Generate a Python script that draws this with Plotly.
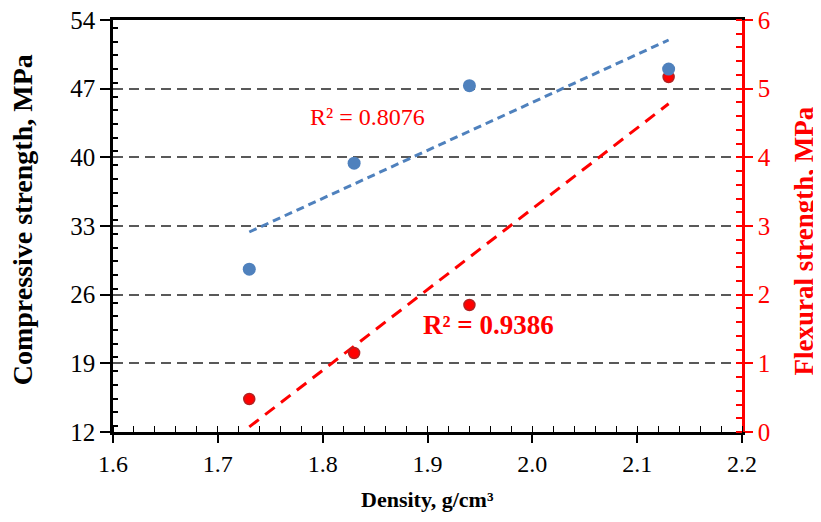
import numpy as np
import plotly.graph_objects as go

density = [1.73, 1.83, 1.94, 2.13]
compressive = [28.6, 39.4, 47.3, 49.0]
flexural = [0.48, 1.15, 1.85, 5.17]
r2_comp_label = "R² = 0.8076"
r2_flex_label = "R² = 0.9386"
x_ticks = [1.6, 1.7, 1.8, 1.9, 2.0, 2.1, 2.2]
x_tick_text = ["1.6", "1.7", "1.8", "1.9", "2.0", "2.1", "2.2"]
y_ticks = [12, 19, 26, 33, 40, 47, 54]
y2_ticks = [0, 1, 2, 3, 4, 5, 6]

FONT = "Liberation Serif"
BLUE = "#4F81BD"
RED = "#FF0000"

xs = np.array(density)
xline = np.array([xs.min(), xs.max()])
pc = np.polyfit(xs, compressive, 1)
pf = np.polyfit(xs, flexural, 1)

fig = go.Figure()
# flexural (red) on the base axis "y" (shown on the right); compressive (blue) on overlay "y2" (left) so it sits on top
fig.add_trace(go.Scatter(x=xline, y=np.polyval(pf, xline), mode="lines",
                         line=dict(color=RED, width=3, dash="12px,8px"),
                         showlegend=False, yaxis="y"))
fig.add_trace(go.Scatter(x=density, y=flexural, mode="markers",
                         marker=dict(color=RED, size=11, line=dict(width=1.5, color="#B22222")),
                         showlegend=False, yaxis="y"))
fig.add_trace(go.Scatter(x=xline, y=np.polyval(pc, xline), mode="lines",
                         line=dict(color=BLUE, width=3, dash="8px,5px"),
                         showlegend=False, yaxis="y2"))
fig.add_trace(go.Scatter(x=density, y=compressive, mode="markers",
                         marker=dict(color=BLUE, size=13, line=dict(width=0)),
                         showlegend=False, yaxis="y2"))

# page body has an 8px default margin, so the figure is sized/offset to compensate
fig.update_layout(
    width=813, height=514,
    margin=dict(l=105, r=79, t=12, b=90, autoexpand=False),
    paper_bgcolor="white", plot_bgcolor="white",
    font=dict(family=FONT, size=24, color="black"),
    xaxis=dict(range=[1.6, 2.2], tickvals=x_ticks, ticktext=x_tick_text,
               automargin=False, ticklabeloverflow="allow",
               showgrid=False, zeroline=False,
               showline=True, linecolor="black", linewidth=2.5, mirror=True,
               ticks="outside", ticklen=8, tickwidth=1.5, tickcolor="black",
               minor=dict(dtick=0.02, ticks="inside", ticklen=6, tickwidth=1, tickcolor="black"),
               tickfont=dict(family=FONT, size=24, color="black")),
    yaxis2=dict(range=[12, 54], tickvals=y_ticks, automargin=False, ticklabeloverflow="allow",
                overlaying="y", side="left",
                showgrid=True, gridcolor="#595959", griddash="10px,6px", gridwidth=2,
                zeroline=False,
                showline=True, linecolor="black", linewidth=2.5,
                ticks="outside", ticklen=10, tickwidth=2, tickcolor="black",
                minor=dict(dtick=1.4, ticks="inside", ticklen=5, tickwidth=1.5, tickcolor="black", showgrid=False),
                tickfont=dict(family=FONT, size=25, color="black")),
    yaxis=dict(range=[0, 6], tickvals=y2_ticks, side="right",
               automargin=False, ticklabeloverflow="allow",
               showgrid=False, zeroline=False,
               showline=True, linecolor=RED, linewidth=2.5,
               ticks="outside", ticklen=8, tickwidth=2, tickcolor=RED,
               minor=dict(dtick=0.2, ticks="inside", ticklen=6, tickwidth=1.5, tickcolor=RED),
               tickfont=dict(family=FONT, size=25, color=RED)),
)

fig.add_annotation(x=1.843, y=44.1, xref="x", yref="y2", text=r2_comp_label,
                   xanchor="center", yanchor="middle",
                   showarrow=False, font=dict(family=FONT, size=24, color=RED))
fig.add_annotation(x=1.958, y=1.56, xref="x", yref="y", text="<b>" + r2_flex_label + "</b>",
                   xanchor="center", yanchor="middle",
                   showarrow=False, font=dict(family=FONT, size=27, color=RED))

fig.add_annotation(x=-0.144, y=0.515, xref="paper", yref="paper",
                   text="<b>Compressive strength, MPa</b>", textangle=-90,
                   xanchor="center", yanchor="middle",
                   showarrow=False, font=dict(family=FONT, size=28, color="black"))
fig.add_annotation(x=1.098, y=0.464, xref="paper", yref="paper",
                   text="<b>Flexural strength, MPa</b>", textangle=-90,
                   xanchor="center", yanchor="middle",
                   showarrow=False, font=dict(family=FONT, size=27, color=RED))
fig.add_annotation(x=0.5, y=-0.165, xref="paper", yref="paper",
                   text="<b>Density, g/cm³</b>",
                   xanchor="center", yanchor="middle",
                   showarrow=False, font=dict(family=FONT, size=22, color="black"))

fig.write_html("out.html")
